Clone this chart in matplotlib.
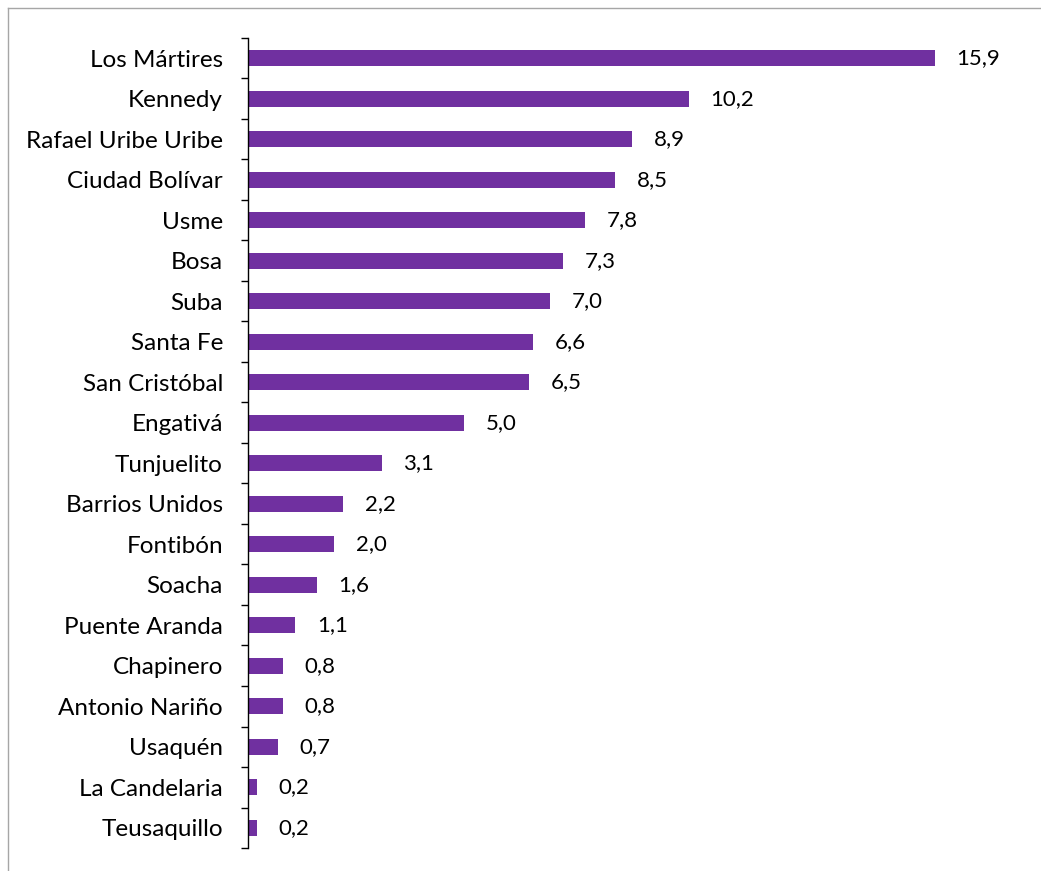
import matplotlib
matplotlib.use("Agg")
import matplotlib.pyplot as plt
from matplotlib.lines import Line2D

localidades = ["Los Mártires", "Kennedy", "Rafael Uribe Uribe", "Ciudad Bolívar",
               "Usme", "Bosa", "Suba", "Santa Fe", "San Cristóbal", "Engativá",
               "Tunjuelito", "Barrios Unidos", "Fontibón", "Soacha",
               "Puente Aranda", "Chapinero", "Antonio Nariño", "Usaquén",
               "La Candelaria", "Teusaquillo"]
valores = [15.9, 10.2, 8.9, 8.5, 7.8, 7.3, 7.0, 6.6, 6.5, 5.0,
           3.1, 2.2, 2.0, 1.6, 1.1, 0.8, 0.8, 0.7, 0.2, 0.2]

plt.rcParams['font.family'] = ['Lato', 'DejaVu Sans']

fig = plt.figure(figsize=(10.41, 8.71), dpi=100)
ax = fig.add_axes([0.2382, 0.0264, 0.747, 0.93])

# borde del grafico (solo arriba e izquierda)
x0 = 7.5 / 1041
y0 = 1 - 8.5 / 871
fig.lines.append(Line2D([x0, 1], [y0, y0], transform=fig.transFigure,
                        color='#a6a6a6', linewidth=1))
fig.lines.append(Line2D([x0, x0], [0, y0], transform=fig.transFigure,
                        color='#a6a6a6', linewidth=1))

pos = list(range(len(localidades)))
ax.barh(pos, valores, height=0.4, color='#7030a0')
for p, v in zip(pos, valores):
    ax.text(v + 0.5, p, f"{v:.1f}".replace('.', ','), va='center',
            ha='left', fontsize=16)

ax.set_ylim(len(localidades) - 0.5, -0.5)
ax.set_xlim(0, 18)
ax.set_yticks(pos)
ax.set_yticklabels(localidades, fontsize=17.5)
ax.set_yticks([p - 0.5 for p in pos] + [len(pos) - 0.5], minor=True)
ax.tick_params(axis='y', which='major', length=0, pad=18)
ax.tick_params(axis='y', which='minor', length=5, width=1)
ax.set_xticks([])
for s in ['top', 'right', 'bottom']:
    ax.spines[s].set_visible(False)
ax.spines['left'].set_linewidth(1)

fig.savefig("out.png", dpi=100)
